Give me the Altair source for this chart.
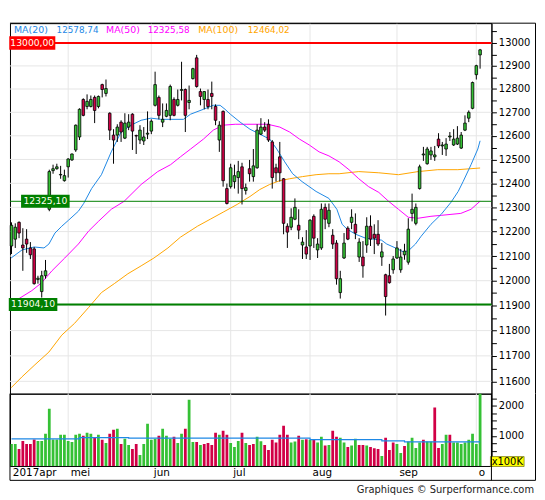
import altair as alt
import pandas as pd

# ---------------- data ----------------
opens = [12141, 12169, 12238, 12145, 12169, 12133, 12129, 12005, 11956, 12020,
         12292, 12453, 12461, 12435, 12411, 12469, 12498, 12540, 12595, 12755,
         12725, 12725, 12764, 12725, 12819, 12781, 12696, 12603, 12603, 12658,
         12590, 12637, 12692, 12601, 12582, 12578, 12607, 12620, 12730, 12764,
         12658, 12683, 12687, 12755, 12730, 12794, 12798, 12742, 12845, 12935,
         12789, 12755, 12755, 12781, 12725, 12582, 12704, 12378, 12386, 12407,
         12424, 12469, 12370, 12461, 12428, 12465, 12607, 12637, 12649, 12574,
         12465, 12511, 12419, 12222, 12218, 12251, 12226, 12145, 12137, 12141,
         12263, 12125, 12133, 12300, 12234, 12185, 12153, 11952, 12092, 12214,
         12238, 12230, 12096, 12096, 12145, 12222, 12189, 12189, 12096, 12024,
         12020, 12044, 12092, 12044, 12105, 12075, 12275, 12234, 12378, 12519,
         12482, 12519, 12511, 12586, 12557, 12544, 12595, 12561, 12565, 12548,
         12624, 12675, 12717, 12862, 12948]
highs = [12238, 12234, 12242, 12214, 12210, 12157, 12137, 12020, 12040, 12084,
         12457, 12478, 12482, 12473, 12457, 12505, 12525, 12648, 12717, 12760,
         12777, 12772, 12772, 12772, 12823, 12841, 12700, 12628, 12649, 12666,
         12696, 12692, 12696, 12605, 12645, 12637, 12704, 12670, 12875, 12772,
         12738, 12738, 12819, 12764, 12798, 12918, 12802, 12815, 12892, 12948,
         12802, 12790, 12798, 12832, 12734, 12662, 12708, 12399, 12482, 12478,
         12494, 12486, 12399, 12498, 12544, 12649, 12675, 12658, 12670, 12582,
         12482, 12574, 12422, 12234, 12296, 12337, 12292, 12177, 12206, 12251,
         12271, 12173, 12316, 12316, 12316, 12210, 12165, 12040, 12194, 12222,
         12292, 12275, 12173, 12161, 12259, 12267, 12230, 12247, 12153, 12028,
         12068, 12100, 12161, 12129, 12150, 12255, 12357, 12316, 12478, 12553,
         12553, 12553, 12557, 12611, 12574, 12590, 12616, 12628, 12641, 12616,
         12687, 12708, 12832, 12905, 12974]
lows = [12108, 12133, 12173, 12040, 12113, 12088, 11984, 11988, 11932, 12008,
        12284, 12440, 12457, 12419, 12407, 12424, 12494, 12532, 12582, 12683,
        12713, 12721, 12654, 12717, 12764, 12768, 12582, 12482, 12574, 12574,
        12586, 12624, 12540, 12523, 12565, 12561, 12586, 12607, 12725, 12670,
        12637, 12679, 12666, 12683, 12725, 12751, 12616, 12713, 12841, 12806,
        12730, 12713, 12713, 12713, 12645, 12532, 12386, 12312, 12378, 12378,
        12357, 12312, 12353, 12407, 12407, 12461, 12603, 12616, 12574, 12378,
        12407, 12407, 12189, 12133, 12206, 12247, 12169, 12088, 12088, 12084,
        12133, 12092, 12125, 12210, 12218, 12129, 11984, 11928, 12088, 12165,
        12210, 12169, 12076, 12012, 12113, 12141, 12108, 12141, 12060, 11860,
        11988, 12028, 12088, 12032, 12085, 12065, 12242, 12226, 12374, 12494,
        12478, 12498, 12494, 12548, 12519, 12515, 12578, 12557, 12561, 12544,
        12620, 12658, 12713, 12841, 12888]
closes = [12226, 12218, 12194, 12133, 12149, 12105, 11988, 12010, 12020, 12040,
          12449, 12461, 12469, 12437, 12432, 12502, 12523, 12645, 12713, 12687,
          12747, 12755, 12708, 12768, 12798, 12802, 12624, 12582, 12637, 12616,
          12654, 12658, 12620, 12599, 12624, 12595, 12611, 12662, 12819, 12687,
          12670, 12708, 12811, 12687, 12755, 12798, 12687, 12751, 12888, 12811,
          12768, 12789, 12725, 12768, 12666, 12645, 12411, 12316, 12465, 12432,
          12449, 12378, 12382, 12440, 12473, 12624, 12637, 12624, 12582, 12424,
          12444, 12444, 12234, 12198, 12259, 12300, 12206, 12157, 12108, 12247,
          12173, 12149, 12292, 12251, 12288, 12149, 12008, 12008, 12153, 12169,
          12259, 12194, 12157, 12060, 12222, 12169, 12173, 12149, 12117, 11936,
          11992, 12088, 12133, 12096, 12120, 12210, 12292, 12300, 12469, 12523,
          12544, 12536, 12519, 12557, 12561, 12565, 12599, 12586, 12590, 12603,
          12654, 12700, 12828, 12901, 12970]
volumes = [733, 733, 567, 833, 733, 733, 878, 833, 833, 1067,
           1900, 878, 878, 1033, 1033, 833, 800, 1033, 1067, 1000,
           1100, 1067, 933, 1033, 867, 767, 1067, 1200, 1233, 733,
           900, 700, 567, 733, 367, 733, 1400, 867, 900, 1000,
           1233, 1000, 900, 967, 767, 1067, 1233, 2200, 800, 800,
           700, 733, 767, 700, 1100, 1033, 1167, 1033, 767, 633,
           833, 1100, 767, 700, 733, 967, 820, 700, 533, 867,
           778, 1033, 1333, 1033, 778, 811, 1000, 867, 889, 867,
           867, 778, 967, 678, 700, 1167, 967, 933, 778, 633,
           678, 900, 700, 700, 678, 633, 589, 567, 333, 933,
           533, 778, 733, 433, 667, 811, 933, 600, 778, 867,
           811, 811, 1944, 600, 733, 1033, 1033, 778, 778, 733,
           778, 867, 1067, 733, 2500]
vol_dirs = list("GGRRRRRGGG" "GGGGGGGGGR" "GGRGRGRRGR" "GGRRGGGGGR" "GGGRGGRGGR"
                "GRRRRGRRGG" "GRGRRGGRRR" "RRRRGGRGRG" "RGGRGRRGGR" "GGRRGRRRGR"
                "RRGGRGGGGR" "GGRRGGRGGG" "GGGGG")
days = list(range(1, len(opens) + 1))

ma20_idx = [0.9, 3.8, 7.0, 9.6, 10.9, 12.5, 14.3, 16.1, 18.7, 20.1, 22.2, 24.8, 27.4, 30.0,
            32.6, 35.3, 37.9, 40.5, 43.1, 46.5, 48.4, 51.8, 54.4, 56.2, 57.5, 58.9, 61.5, 64.1,
            66.7, 69.3, 71.2, 73.3, 75.4, 77.9, 81.6, 85.0, 87.1, 88.5, 89.8, 92.1, 94.7, 96.8,
            98.9, 100.3, 102.6, 104.7, 106.0, 107.9, 109.4, 112.0, 114.7, 117.3, 119.2, 120.5,
            122.6, 124.4, 125.0]
ma20_val = [12092, 12125, 12137, 12133, 12149, 12194, 12222, 12247, 12284, 12316, 12378, 12436,
            12532, 12616, 12645, 12666, 12675, 12670, 12670, 12670, 12692, 12713, 12730, 12730,
            12713, 12692, 12658, 12628, 12607, 12586, 12544, 12490, 12440, 12407, 12366, 12337,
            12292, 12230, 12210, 12189, 12173, 12169, 12165, 12149, 12133, 12117, 12121, 12149,
            12181, 12230, 12271, 12321, 12366, 12407, 12478, 12544, 12578.74]
ma50_idx = [3.0, 6.4, 9.0, 11.7, 15.1, 18.7, 21.4, 24.0, 27.4, 30.8, 35.3, 39.7, 43.1, 45.7,
            48.4, 51.8, 54.4, 57.0, 60.2, 63.3, 66.0, 68.8, 72.0, 74.6, 77.2, 79.8, 82.4, 85.0,
            87.7, 90.3, 92.9, 95.5, 98.2, 100.8, 103.4, 106.0, 108.6, 112.0, 114.7, 117.3, 119.9,
            122.6, 125.0]
ma50_val = [11928, 11960, 11992, 12040, 12092, 12149, 12202, 12242, 12292, 12325, 12395, 12449,
            12478, 12511, 12544, 12586, 12624, 12645, 12649, 12649, 12649, 12649, 12637, 12616,
            12586, 12561, 12532, 12515, 12490, 12457, 12419, 12386, 12362, 12325, 12292, 12259,
            12255, 12263, 12267, 12271, 12275, 12292, 12325.58]
ma100_idx = [0.9, 3.8, 7.2, 10.9, 14.3, 17.7, 21.4, 24.8, 28.2, 31.8, 35.3, 38.7, 42.4, 45.7,
             50.2, 53.6, 57.0, 60.7, 64.1, 66.7, 69.3, 72.0, 74.6, 78.0, 81.6, 85.0, 87.7, 92.9,
             98.2, 103.4, 108.6, 113.8, 119.1, 125.0]
ma100_val = [11575, 11618, 11665, 11715, 11782, 11829, 11892, 11952, 11988, 12028, 12060, 12092,
             12133, 12177, 12222, 12251, 12280, 12312, 12345, 12374, 12395, 12411, 12419, 12428,
             12436, 12440, 12440, 12449, 12444, 12436, 12449, 12457, 12457, 12464.02]

vol_avg_idx = [1, 19, 32, 80, 99, 105, 125]
vol_avg_val = [900, 944, 922, 878, 833, 800, 800]

month_idx = [16, 38, 59, 80, 103, 124]
date_lbl_idx = [0.7, 16, 38, 59, 80, 103, 124]
date_lbl = ["2017apr", "mei", "jun", "jul", "aug", "sep", "o"]

price_ticks = list(range(11600, 13051, 50))
price_grid = list(range(11600, 13001, 100))
vol_ticks = [500, 750, 1000, 1250, 1500, 1750, 2000, 2250]

levels = [13000.00, 12325.10, 11904.10]
legend_names = ["MA(20)", "MA(50)", "MA(100)"]
legend_vals = [12578.74, 12325.58, 12464.02]
footer = "Graphiques \u00a9 Surperformance.com"
vol_unit = "x100K"

# ---------------- styles ----------------
FONT = "DejaVu Sans"
GREEN = "#35C135"
RED = "#D10046"
LRED = "#FF0000"
BLUE = "#1E88E5"
MAG = "#FF00FF"
ORA = "#FFA500"
LGREEN = "#008000"
GRID = "#E6E6E6"
W, HP, HV = 486, 374, 73

xs = alt.Scale(domain=[0.6, 128.0], nice=False, zero=False, padding=0)
ys = alt.Scale(type="log", domain=[11552, 13087], nice=False, padding=0)
vs = alt.Scale(domain=[0, 2400], nice=False, zero=True, padding=0)
dir_scale = alt.Scale(domain=["G", "R"], range=[GREEN, RED])

def fmt(v):
    return f"{v:.2f}".replace(".", ",")

def box_shape(w, h):
    r = h / w
    return f"M-1,{-r:.4f} L1,{-r:.4f} L1,{r:.4f} L-1,{r:.4f} Z"

one = pd.DataFrame({"a": [0]})

def frame_rule(**enc):
    return alt.Chart(one).mark_rule(color="black", strokeWidth=1).encode(**enc)

candles = pd.DataFrame({"d": days, "o": opens, "h": highs, "l": lows, "c": closes})
candles["dir"] = ["G" if c >= o else "R" for o, c in zip(opens, closes)]

# ---------------- axes (same object on every layer so they merge) ----------------
price_axis = alt.Axis(
    orient="right", values=price_ticks, title=None, grid=False,
    labelExpr="datum.value % 100 === 0 ? format(datum.value, 'd') : ''",
    tickSize=5, tickColor="black", domainColor="black", labelPadding=2,
    labelFontSize=10, labelFont=FONT, labelColor="black", labelOverlap=False)

expr = f"'{date_lbl[-1]}'"
for i in range(len(date_lbl) - 2, -1, -1):
    mid = (date_lbl_idx[i] + date_lbl_idx[i + 1]) / 2
    expr = f"datum.value < {mid} ? '{date_lbl[i]}' : ({expr})"

date_axis = alt.Axis(
    values=date_lbl_idx, labelExpr=expr, ticks=False, domain=False, grid=False,
    labelAlign="left", labelOffset=2, labelPadding=2, labelFontSize=10.5,
    labelFont=FONT, labelColor="black", title=None, labelOverlap=False, labelFlush=False)
vol_axis = alt.Axis(
    orient="right", values=vol_ticks, title=None, grid=False,
    labelExpr="datum.value % 1000 === 0 ? format(datum.value, 'd') : ''",
    tickSize=5, tickColor="black", domainColor="black", labelPadding=2,
    labelFontSize=10, labelFont=FONT, labelColor="black", labelOverlap=False)

def PX(f):
    return alt.X(f, scale=xs, axis=None)

def PY(f):
    return alt.Y(f, scale=ys, axis=price_axis)

# ---------------- price panel ----------------
grid_h = alt.Chart(pd.DataFrame({"p": price_grid})).mark_rule(color=GRID, strokeWidth=1).encode(
    y=PY("p:Q"))
grid_v = alt.Chart(pd.DataFrame({"m": month_idx})).mark_rule(color=GRID, strokeWidth=1).encode(
    x=PX("m:Q"))

def ma_line(ix, vals, color):
    return alt.Chart(pd.DataFrame({"d": ix, "v": vals})).mark_line(color=color, strokeWidth=1).encode(
        x=PX("d:Q"), y=PY("v:Q"))

level_styles = [(LRED, 2), (LGREEN, 1), (LGREEN, 2.2)]
level_boxes = [(22.5, 46.5, 13.5), (35.7, 49, 13), (23.3, 49, 13)]

layers = [grid_h, grid_v,
          ma_line(ma100_idx, ma100_val, ORA),
          ma_line(ma50_idx, ma50_val, MAG),
          ma_line(ma20_idx, ma20_val, BLUE)]

for lv, (col, sw) in zip(levels, level_styles):
    layers.append(alt.Chart(pd.DataFrame({"p": [lv]})).mark_rule(color=col, strokeWidth=sw).encode(
        y=PY("p:Q")))

wicks = alt.Chart(candles).mark_rule(color="black", strokeWidth=1).encode(
    x=PX("d:Q"), y=PY("l:Q"), y2="h:Q")
bodies = alt.Chart(candles).mark_bar(size=2.6, stroke="black", strokeWidth=0.8).encode(
    x=PX("d:Q"), y=PY("o:Q"), y2="c:Q",
    color=alt.Color("dir:N", scale=dir_scale, legend=None))
layers += [wicks, bodies]

for lv, (col, sw), (cx, bw, bh) in zip(levels, level_styles, level_boxes):
    ldf = pd.DataFrame({"p": [lv], "t": [fmt(lv)]})
    layers.append(alt.Chart(ldf).mark_point(shape=box_shape(bw, bh), size=bw * bw, filled=True,
                                            color=col, opacity=1, strokeWidth=0).encode(
        x=alt.value(cx), y=PY("p:Q")))
    layers.append(alt.Chart(ldf).mark_text(font=FONT, fontSize=9.3, color="#FFFFF0",
                                           align="center", baseline="middle").encode(
        x=alt.value(cx), y=PY("p:Q"), text="t:N"))

legend_x = [(4, 47), (97, 139), (190, 240)]
for name, val, color, (xn, xv) in zip(legend_names, legend_vals, [BLUE, MAG, ORA], legend_x):
    layers.append(alt.Chart(pd.DataFrame({"t": [name]})).mark_text(
        font=FONT, fontSize=9.5, color=color, align="left", baseline="middle").encode(
        x=alt.value(xn), y=alt.value(7), text="t:N"))
    layers.append(alt.Chart(pd.DataFrame({"t": [fmt(val)]})).mark_text(
        font=FONT, fontSize=8.9, color=color, align="left", baseline="middle").encode(
        x=alt.value(xv), y=alt.value(7), text="t:N"))

R_X = 530.5
layers.append(frame_rule(x=alt.value(0), x2=alt.value(R_X), y=alt.value(0)))
layers.append(frame_rule(x=alt.value(R_X), y=alt.value(0), y2=alt.value(HP)))

price = alt.layer(*layers).properties(width=W, height=HP)

# ---------------- volume panel ----------------
def VX(f):
    return alt.X(f, scale=xs, axis=date_axis)

def VY(f):
    return alt.Y(f, scale=vs, axis=vol_axis)

vol_df = pd.DataFrame({"d": days, "v": volumes, "dir": vol_dirs})
vgrid = alt.Chart(pd.DataFrame({"m": month_idx})).mark_rule(color=GRID, strokeWidth=1).encode(
    x=VX("m:Q"))
vbars = alt.Chart(vol_df).mark_bar(size=2.8, clip=True).encode(
    x=VX("d:Q"), y=VY("v:Q"),
    color=alt.Color("dir:N", scale=dir_scale, legend=None))
vavg = alt.Chart(pd.DataFrame({"d": vol_avg_idx, "v": vol_avg_val})).mark_line(
    color=BLUE, strokeWidth=1.2, interpolate="step-after").encode(
    x=VX("d:Q"), y=VY("v:Q"))
ubox = alt.Chart(one).mark_point(shape=box_shape(34, 10), size=34 * 34, filled=True,
                                 color="#FFFF00", opacity=1, stroke="#555500", strokeWidth=0.6).encode(
    x=alt.value(502), y=alt.value(68.5))
utext = alt.Chart(pd.DataFrame({"t": [vol_unit]})).mark_text(
    font=FONT, fontSize=10, color="black", align="center", baseline="middle").encode(
    x=alt.value(502), y=alt.value(68.8), text="t:N")
foot = alt.Chart(pd.DataFrame({"t": [footer]})).mark_text(
    font=FONT, fontSize=10, color="#222222", align="right", baseline="middle").encode(
    x=alt.value(529), y=alt.value(97), text="t:N")

B_Y = 87.5
vframe = [
    frame_rule(x=alt.value(0), x2=alt.value(R_X), y=alt.value(B_Y)),
    frame_rule(x=alt.value(0), y=alt.value(0), y2=alt.value(B_Y)),
    frame_rule(x=alt.value(R_X), y=alt.value(0), y2=alt.value(B_Y)),
    frame_rule(x=alt.value(W), y=alt.value(0), y2=alt.value(B_Y)),
]

vol = alt.layer(vgrid, vbars, vavg, ubox, utext, foot, *vframe).properties(width=W, height=HV)

chart = alt.vconcat(price, vol, spacing=0, bounds="flush").resolve_scale(y="independent").properties(
    padding={"left": 0, "top": 12, "right": 0, "bottom": 0}
).configure_view(stroke="black", strokeWidth=1).configure_axis(
    labelFont=FONT, labelColor="black")

chart.save("out.html", embed_options={"renderer": "svg", "actions": False})
